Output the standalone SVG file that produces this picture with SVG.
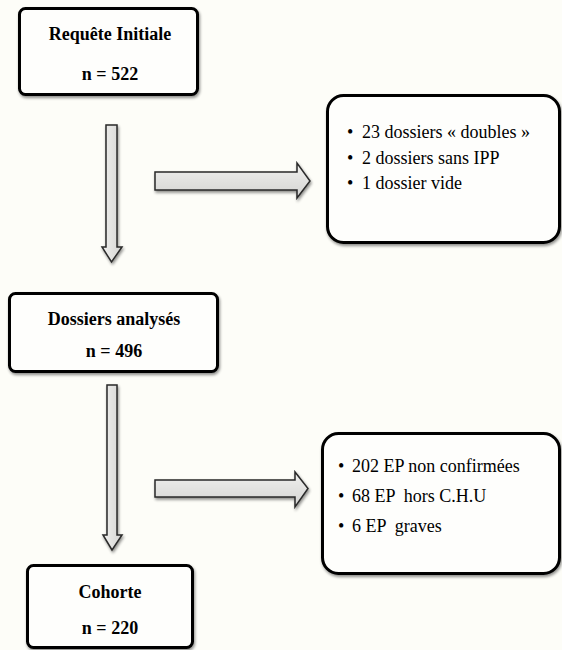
<svg xmlns="http://www.w3.org/2000/svg" width="562" height="650" viewBox="0 0 562 650">
  <defs>
    <linearGradient id="arrowFill" x1="0" y1="0" x2="0" y2="1">
      <stop offset="0" stop-color="#f0f0ee"/>
      <stop offset="1" stop-color="#d4d4d2"/>
    </linearGradient>
    <linearGradient id="arrowFillV" x1="0" y1="0" x2="1" y2="0">
      <stop offset="0" stop-color="#f0f0ee"/>
      <stop offset="1" stop-color="#d4d4d2"/>
    </linearGradient>
    <filter id="shadow" x="-20%" y="-20%" width="140%" height="140%">
      <feGaussianBlur in="SourceAlpha" stdDeviation="1.5"/>
      <feOffset dx="1" dy="2" result="b"/>
      <feComponentTransfer><feFuncA type="linear" slope="0.45"/></feComponentTransfer>
      <feMerge><feMergeNode/><feMergeNode in="SourceGraphic"/></feMerge>
    </filter>
  </defs>
  <style>
    .box { fill: #fefefc; stroke: #000; stroke-width: 3; }
    .arrow { stroke: #2a2a2a; stroke-width: 1.5; stroke-linejoin: miter; }
    .title { font-family: "Liberation Serif", serif; font-weight: bold; font-size: 18px; fill: #000; text-anchor: middle; }
    .item { font-family: "Liberation Serif", serif; font-size: 18px; fill: #000; white-space: pre; }
  </style>
  <rect width="562" height="650" fill="#fdfdf8"/>

  <g id="connectors">
    <polygon class="arrow" fill="url(#arrowFillV)" filter="url(#shadow)" points="106,125 117,125 117,247 122,247 111.5,262 102,247 106,247"/>
    <polygon class="arrow" fill="url(#arrowFill)" filter="url(#shadow)" points="155,172 297,172 297,163 310,181 297,198 297,190 155,190"/>
    <polygon class="arrow" fill="url(#arrowFillV)" filter="url(#shadow)" points="107,385 117,385 117,535 122,535 112,550 103,535 107,535"/>
    <polygon class="arrow" fill="url(#arrowFill)" filter="url(#shadow)" points="155,480 295,480 295,472 308,488.5 295,507 295,497 155,497"/>
  </g>

  <g id="requete">
    <rect class="box" filter="url(#shadow)" x="19.5" y="8.5" width="178" height="86" rx="6"/>
    <text class="title" x="110" y="40">Requête Initiale</text>
    <text class="title" x="110" y="80">n = 522</text>
  </g>

  <g id="exclusions1">
    <rect class="box" filter="url(#shadow)" x="327.5" y="95.5" width="232" height="147" rx="16"/>
    <text class="item" y="138"><tspan x="347">•</tspan><tspan x="362">23 dossiers « doubles »</tspan></text>
    <text class="item" y="164"><tspan x="347">•</tspan><tspan x="362">2 dossiers sans IPP</tspan></text>
    <text class="item" y="189"><tspan x="347">•</tspan><tspan x="362">1 dossier vide</tspan></text>
  </g>

  <g id="dossiers">
    <rect class="box" filter="url(#shadow)" x="9.5" y="293.5" width="208" height="78" rx="6"/>
    <text class="title" x="114" y="325">Dossiers analysés</text>
    <text class="title" x="114" y="357">n = 496</text>
  </g>

  <g id="exclusions2">
    <rect class="box" filter="url(#shadow)" x="322.5" y="433.5" width="237" height="140" rx="16"/>
    <text class="item" y="472"><tspan x="338">•</tspan><tspan x="352">202 EP non confirmées</tspan></text>
    <text class="item" y="502"><tspan x="338">•</tspan><tspan x="352">68 EP  hors C.H.U</tspan></text>
    <text class="item" y="532"><tspan x="338">•</tspan><tspan x="352">6 EP  graves</tspan></text>
  </g>

  <g id="cohorte">
    <rect class="box" filter="url(#shadow)" x="27.5" y="565.5" width="165" height="82" rx="6"/>
    <text class="title" x="110" y="598">Cohorte</text>
    <text class="title" x="110" y="634">n = 220</text>
  </g>
</svg>
